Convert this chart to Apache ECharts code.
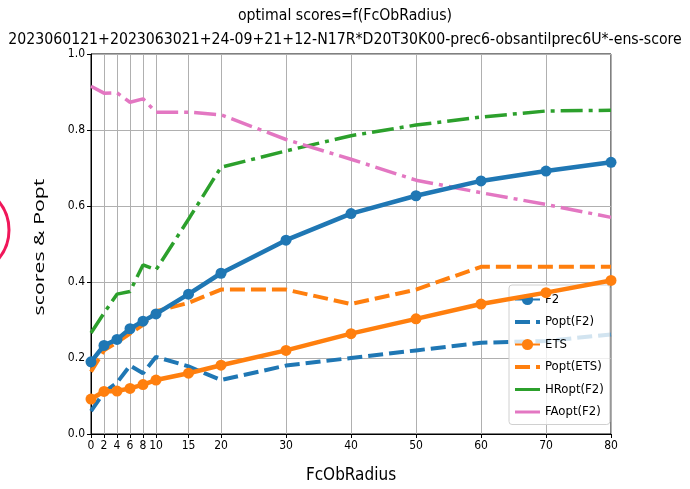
<!DOCTYPE html>
<html>
<head>
<meta charset="utf-8">
<script src="https://cdn.jsdelivr.net/npm/echarts@6/dist/echarts.min.js"></script>
<style>
  html, body { margin: 0; padding: 0; background: #fff; }
  #chart { width: 690px; height: 489px; }
</style>
</head>
<body>
<div id="chart"></div>
<script>
const radius = [0, 2, 4, 6, 8, 10, 15, 20, 30, 40, 50, 60, 70, 80]
const f2 = [0.19, 0.233, 0.249, 0.277, 0.297, 0.316, 0.368, 0.423, 0.51, 0.58, 0.627, 0.666, 0.692, 0.715]
const poptF2 = [0.06, 0.11, 0.135, 0.18, 0.16, 0.203, 0.178, 0.142, 0.18, 0.2, 0.22, 0.24, 0.245, 0.262]
const ets = [0.092, 0.112, 0.113, 0.12, 0.13, 0.142, 0.16, 0.181, 0.22, 0.264, 0.303, 0.342, 0.372, 0.404]
const poptEts = [0.164, 0.22, 0.241, 0.264, 0.287, 0.323, 0.345, 0.38, 0.38, 0.342, 0.38, 0.44, 0.44, 0.44]
const hroptF2 = [0.266, 0.318, 0.368, 0.375, 0.445, 0.432, 0.565, 0.702, 0.745, 0.785, 0.813, 0.834, 0.85, 0.852]
const faoptF2 = [0.915, 0.897, 0.898, 0.873, 0.882, 0.847, 0.847, 0.84, 0.775, 0.723, 0.668, 0.635, 0.604, 0.57]
const yTicks = [0, 0.2, 0.4, 0.6, 0.8, 1.0]

const narrow = "'DejaVu Sans Condensed', 'Liberation Sans Narrow', 'DejaVu Sans', sans-serif"
const pair = arr => arr.map((v, i) => [radius[i], v])

const chart = echarts.init(document.getElementById('chart'), null, { renderer: 'canvas' })

function lineSeries(name, data, color, opts) {
  return Object.assign({
    name,
    type: 'line',
    data: pair(data),
    showSymbol: false,
    symbol: 'circle',
    symbolSize: 11,
    color,
    itemStyle: { color },
    lineStyle: { color, width: 4 },
    z: 3,
    animation: false
  }, opts)
}

// legend entries without a marker
const noMark = { opacity: 0 }

chart.setOption({
  animation: false,
  title: {
    text: 'optimal scores=f(FcObRadius)\n2023060121+2023063021+24-09+21+12-N17R*D20T30K00-prec6-obsantilprec6U*-ens-score',
    left: 'center',
    top: -1,
    textStyle: { fontFamily: narrow, fontSize: 15.7, fontWeight: 'normal', color: '#000', lineHeight: 24, align: 'center' }
  },
  grid: {
    left: 91, right: 79, top: 54, bottom: 49,
    show: true, borderColor: '#000', borderWidth: 1
  },
  legend: {
    orient: 'vertical',
    left: 509, top: 285,
    padding: [8, 6, 6, 4],
    itemWidth: 25, itemHeight: 14, itemGap: 9.5,
    backgroundColor: 'rgba(255,255,255,0.8)',
    borderColor: '#d0d0d0', borderWidth: 1, borderRadius: 3,
    textStyle: { fontFamily: narrow, fontSize: 13, color: '#000' },
    data: [
      'F2',
      { name: 'Popt(F2)', itemStyle: noMark, lineStyle: { width: 4 } },
      'ETS',
      { name: 'Popt(ETS)', itemStyle: noMark, lineStyle: { width: 4 } },
      { name: 'HRopt(F2)', itemStyle: noMark, lineStyle: { type: 'solid', width: 3 } },
      { name: 'FAopt(F2)', itemStyle: noMark, lineStyle: { type: 'solid', width: 3 } }
    ]
  },
  xAxis: {
    type: 'value', min: 0, max: 80,
    name: 'FcObRadius', nameLocation: 'middle', nameGap: 33,
    nameTextStyle: { fontFamily: narrow, fontSize: 17, color: '#000' },
    axisLine: { lineStyle: { color: '#000' } },
    axisTick: { show: true, length: 4, lineStyle: { color: '#000' }, customValues: radius },
    axisLabel: { fontFamily: narrow, fontSize: 12, color: '#000', margin: 6, customValues: radius },
    splitLine: { show: true, lineStyle: { color: '#b0b0b0', width: 1 }, customValues: radius }
  },
  yAxis: {
    type: 'value', min: 0, max: 1,
    axisLine: { show: true, lineStyle: { color: '#000' } },
    axisTick: { show: true, length: 4, lineStyle: { color: '#000' }, customValues: yTicks },
    axisLabel: { fontFamily: narrow, fontSize: 12, color: '#000', margin: 6, customValues: yTicks, formatter: v => v.toFixed(1) },
    splitLine: { show: true, lineStyle: { color: '#b0b0b0', width: 1 } }
  },
  graphic: [
    {
      type: 'text', x: 40, y: 247, rotation: Math.PI / 2, scaleX: 1.42,
      style: { text: 'scores & Popt', font: "15px 'Open Sans', sans-serif", fill: '#000', align: 'center', verticalAlign: 'middle' }
    },
    {
      type: 'circle', shape: { cx: -36, cy: 230, r: 45 },
      style: { fill: 'none', stroke: '#f0175a', lineWidth: 3 }
    }
  ],
  series: [
    lineSeries('F2', f2, '#1f77b4', { showSymbol: true, lineStyle: { color: '#1f77b4', width: 4.5 }, z: 5 }),
    lineSeries('Popt(F2)', poptF2, '#1f77b4', { lineStyle: { color: '#1f77b4', width: 4, type: [15, 6] } }),
    lineSeries('ETS', ets, '#ff7f0e', { showSymbol: true, lineStyle: { color: '#ff7f0e', width: 4.5 }, z: 5 }),
    lineSeries('Popt(ETS)', poptEts, '#ff7f0e', { lineStyle: { color: '#ff7f0e', width: 4, type: [15, 6] } }),
    lineSeries('HRopt(F2)', hroptF2, '#2ca02c', { lineStyle: { color: '#2ca02c', width: 3.5, type: [22, 6, 4, 6] } }),
    lineSeries('FAopt(F2)', faoptF2, '#e377c2', { lineStyle: { color: '#e377c2', width: 3.5, type: [22, 6, 4, 6] } })
  ]
})
</script>
</body>
</html>
